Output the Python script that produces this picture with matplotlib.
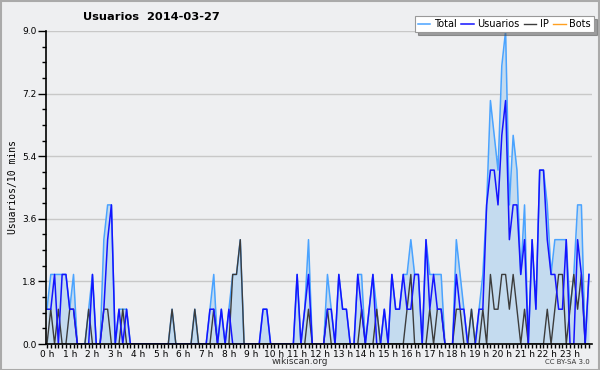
import numpy as np
import matplotlib
matplotlib.use("Agg")
import matplotlib.pyplot as plt
from matplotlib.patches import Rectangle

# one value per 10 minutes, one row per hour
total = [
    1, 2, 2, 2, 2, 2,   # 0 h
    1, 2, 0, 0, 0, 1,   # 1 h
    2, 0, 0, 3, 4, 4,   # 2 h
    0, 1, 1, 1, 0, 0,   # 3 h
    0, 0, 0, 0, 0, 0,   # 4 h
    0, 0, 0, 1, 0, 0,   # 5 h
    0, 0, 0, 1, 0, 0,   # 6 h
    0, 1, 2, 0, 1, 0,   # 7 h
    1, 2, 2, 3, 0, 0,   # 8 h
    0, 0, 0, 1, 1, 0,   # 9 h
    0, 0, 0, 0, 0, 0,   # 10 h
    2, 0, 1, 3, 0, 0,   # 11 h
    0, 0, 2, 1, 0, 2,   # 12 h
    1, 1, 0, 0, 2, 2,   # 13 h
    0, 1, 2, 1, 0, 1,   # 14 h
    0, 2, 1, 1, 2, 2,   # 15 h
    3, 2, 2, 0, 3, 2,   # 16 h
    2, 2, 2, 0, 0, 0,   # 17 h
    3, 2, 1, 0, 1, 0,   # 18 h
    1, 2, 4, 7, 6, 5,   # 19 h
    8, 9, 4, 6, 5, 2,   # 20 h
    4, 0, 3, 1, 5, 5,   # 21 h
    4, 2, 3, 3, 3, 3,   # 22 h
    1, 2, 4, 4, 0, 2,   # 23 h
]
usuarios = [
    1, 1, 2, 0, 2, 2,
    1, 1, 0, 0, 0, 0,
    2, 0, 0, 1, 3, 4,
    0, 1, 0, 1, 0, 0,
    0, 0, 0, 0, 0, 0,
    0, 0, 0, 0, 0, 0,
    0, 0, 0, 0, 0, 0,
    0, 1, 1, 0, 1, 0,
    1, 0, 0, 0, 0, 0,
    0, 0, 0, 1, 1, 0,
    0, 0, 0, 0, 0, 0,
    2, 0, 1, 2, 0, 0,
    0, 0, 1, 1, 0, 2,
    1, 1, 0, 0, 2, 1,
    0, 1, 2, 0, 0, 1,
    0, 2, 1, 1, 2, 1,
    1, 2, 2, 0, 3, 1,
    2, 1, 1, 0, 0, 0,
    2, 1, 1, 0, 0, 0,
    1, 1, 4, 5, 5, 4,
    6, 7, 3, 4, 4, 2,
    3, 0, 3, 1, 5, 5,
    3, 2, 2, 1, 1, 3,
    0, 0, 3, 2, 0, 2,
]
ip = [
    0, 1, 0, 1, 0, 0,
    1, 1, 0, 0, 0, 1,
    0, 0, 0, 1, 1, 0,
    0, 0, 1, 0, 0, 0,
    0, 0, 0, 0, 0, 0,
    0, 0, 0, 1, 0, 0,
    0, 0, 0, 1, 0, 0,
    0, 0, 1, 0, 0, 0,
    0, 2, 2, 3, 0, 0,
    0, 0, 0, 0, 0, 0,
    0, 0, 0, 0, 0, 0,
    0, 0, 0, 1, 0, 0,
    0, 0, 1, 0, 0, 0,
    0, 0, 0, 0, 0, 1,
    0, 0, 0, 1, 0, 0,
    0, 0, 0, 0, 0, 1,
    2, 0, 0, 0, 0, 1,
    0, 1, 1, 0, 0, 0,
    1, 1, 0, 0, 1, 0,
    0, 1, 0, 2, 1, 1,
    2, 2, 1, 2, 1, 0,
    1, 0, 0, 0, 0, 0,
    1, 0, 1, 2, 2, 0,
    1, 2, 1, 2, 0, 0,
]
bots = [0] * 144
hour_labels = ["%d h" % h for h in range(24)]

bg = "#eeeff1"
c_total = "#4aa3ff"
c_users = "#1414ff"
c_ip = "#3c3c3c"
c_bots = "#ffa020"
c_fill = "#c4dbef"

x = np.arange(len(total))

fig = plt.figure(figsize=(6, 3.7), dpi=100, facecolor=bg)
ax = fig.add_axes([46 / 600, 26 / 370, 546 / 600, 313 / 370], facecolor=bg)

ax.fill_between(x, total, 0, color=c_fill, lw=0, zorder=1)
ax.plot(x, bots, color=c_bots, lw=1, label="Bots", zorder=1)
ax.plot(x, total, color=c_total, lw=1.1, label="Total", zorder=3)
ax.plot(x, ip, color=c_ip, lw=1.0, label="IP", zorder=4)
ax.plot(x, usuarios, color=c_users, lw=1.1, label="Usuarios", zorder=5)

ax.set_xlim(-0.26, 143.8)
ax.set_ylim(0, 9)

ax.set_yticks(np.arange(0, 9.01, 1.8))
ax.set_yticklabels(["%.1f" % v for v in np.arange(0, 9.01, 1.8)])
ax.set_yticks(np.arange(0, 9.01, 0.45), minor=True)
ax.set_xticks(np.arange(0, 144, 6))
ax.set_xticklabels(hour_labels)
ax.set_xticks(np.arange(0, 144, 1), minor=True)
ax.tick_params(axis="y", which="major", length=6, width=1, labelsize=6.5, pad=1, colors="black")
ax.tick_params(axis="y", which="minor", length=3, width=1)
ax.tick_params(axis="x", which="both", length=3, width=1, labelsize=6.5, pad=1)
ax.grid(axis="y", which="major", color="#c8c8c8", lw=1, zorder=0)
ax.set_axisbelow(True)
for s in ["top", "right"]:
    ax.spines[s].set_visible(False)
ax.spines["left"].set_linewidth(1.2)
ax.spines["bottom"].set_linewidth(1.2)
ax.spines["left"].set_zorder(6)
ax.spines["bottom"].set_zorder(6)

ax.set_ylabel("Usuarios/10 mins", family="DejaVu Sans Mono", fontsize=7, labelpad=3)

fig.text(151 / 600, 1 - 17 / 370, "Usuarios  2014-03-27", ha="center", va="center",
         fontsize=8.2, fontweight="bold")
fig.text(300 / 600, 1 - 362 / 370, "wikiscan.org", ha="center", va="center",
         fontsize=6.5, color="#333333")
fig.text(590 / 600, 1 - 362 / 370, "CC BY-SA 3.0", ha="right", va="center",
         fontsize=5, color="#333333")

handles, labels = ax.get_legend_handles_labels()
order = [labels.index(n) for n in ["Total", "Usuarios", "IP", "Bots"]]
leg = fig.legend([handles[i] for i in order], [labels[i] for i in order],
                 loc="upper right", bbox_to_anchor=(594 / 600, 1 - 16 / 370),
                 ncol=4, fontsize=7, frameon=True, fancybox=False, shadow=True,
                 handlelength=1.3, handletextpad=0.4, columnspacing=0.4,
                 borderpad=0.3, borderaxespad=0)
leg.get_frame().set_edgecolor("#999999")
leg.get_frame().set_linewidth(0.8)
leg.get_frame().set_facecolor("white")

fig.add_artist(Rectangle((0.001, 0.001), 0.997, 0.996, transform=fig.transFigure,
                         fill=False, edgecolor="#aaaaaa", lw=1.5))

fig.savefig("out.png", dpi=100, facecolor=bg)
